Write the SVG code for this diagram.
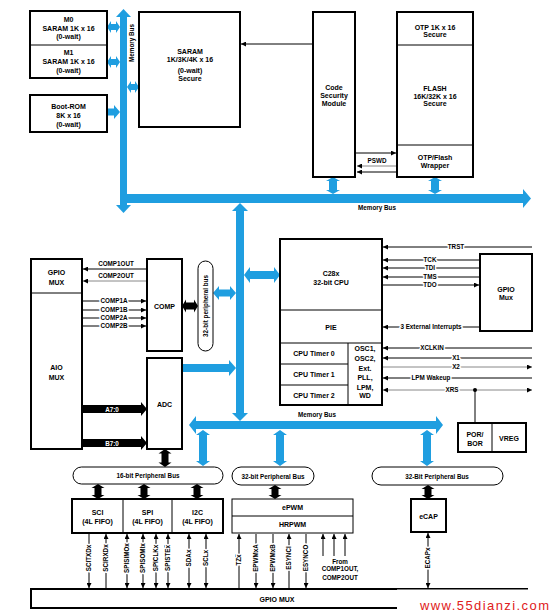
<svg xmlns="http://www.w3.org/2000/svg" width="554" height="615" viewBox="0 0 554 615">
<defs>
<style>
.box{fill:#fff;stroke:#000;stroke-width:2}
.thin{fill:#fff;stroke:#000;stroke-width:1}
.bus{fill:#1f9ee0}
.blk{fill:#000}
.t{font-family:"Liberation Sans",Arial,sans-serif;font-size:7px;font-weight:bold;text-anchor:middle;fill:#000}
.s{font-size:6.3px}
.halo{paint-order:stroke;stroke:#fff;stroke-width:3px;stroke-linejoin:round}
.ln{stroke:#000;stroke-width:1;fill:none}
.gl{stroke:#888}
.ov{text-decoration:overline}
</style>
<marker id="ah" viewBox="0 0 8 8" refX="8" refY="4" markerWidth="5" markerHeight="5" orient="auto-start-reverse" markerUnits="userSpaceOnUse"><path d="M0,0 L8,4 L0,8 z" fill="#000"/></marker>
</defs>
<rect width="554" height="615" fill="#fff"/>

<g id="buses">
<polygon class="bus" points="123.5,9 131,17 127,17 127,205 131,205 123.5,213 116,205 120,205 120,17 116,17"/>
<polygon class="bus" points="127,194 523,194 523,189 531,198.5 523,208 523,203 127,203"/>
<polygon class="bus" points="107,27 111,21 111,24 116,24 116,21 120,27 116,33 116,30 111,30 111,33"/>
<polygon class="bus" points="107,62 111,56 111,59 116,59 116,56 120,62 116,68 116,65 111,65 111,68"/>
<polygon class="bus" points="107,108.5 114,108.5 114,105 120,112 114,119 114,115.5 107,115.5"/>
<polygon class="bus" points="127,87 131,81 131,84 135,84 135,81 139,87 135,93 135,90 131,90 131,93"/>
<polygon class="bus" points="333,177 340,181 337,181 337,190 340,190 333,194 326,190 329,190 329,181 326,181"/>
<polygon class="bus" points="435,177 442,181 439,181 439,190 442,190 435,194 428,190 431,190 431,181 428,181"/>
<polygon class="bus" points="240,203 248,211 244,211 244,413 248,413 240,421 232,413 236,413 236,211 232,211"/>
<polygon class="bus" points="189,425 196,416 196,421 436,421 436,416 443,425 436,434 436,429 196,429 196,434"/>
<polygon class="bus" points="203,430 210,435 207,435 207,461 210,461 203,466 196,461 199,461 199,435 196,435"/>
<polygon class="bus" points="280,430 287,435 284,435 284,461 287,461 280,466 273,461 276,461 276,435 273,435"/>
<polygon class="bus" points="427,430 434,435 431,435 431,461 434,461 427,466 420,461 423,461 423,435 420,435"/>
<polygon class="bus" points="244,275 250,267 250,271 274,271 274,267 280,275 274,283 274,279 250,279 250,283"/>
<polygon class="bus" points="213,293 219,286 219,289.5 230,289.5 230,286 236,293 230,300 230,296.5 219,296.5 219,300"/>
<polygon class="bus" points="182,364 229,364 229,360 236,368 229,376 229,372 182,372"/>
<text class="t s" x="132" y="45.3" transform="rotate(-90 132 43)">Memory Bus</text>
<text class="t s" x="377" y="210">Memory Bus</text>
<text class="t s" x="317" y="417">Memory Bus</text>
</g>

<g id="connectors">
<line class="ln" x1="313" y1="44" x2="241" y2="44" marker-end="url(#ah)"/>
<line class="ln" x1="355" y1="153" x2="396" y2="153" marker-end="url(#ah)"/>
<line class="ln gl" x1="397" y1="166" x2="357" y2="166" marker-end="url(#ah)"/>
<line class="ln" x1="397" y1="172" x2="357" y2="172" marker-end="url(#ah)"/>
<text class="t s" x="377" y="163">PSWD</text>

<line class="ln" x1="532" y1="247" x2="383" y2="247" marker-end="url(#ah)"/>
<text class="t s halo ov" x="456" y="249.3">TRST</text>
<line class="ln" x1="480" y1="260" x2="383" y2="260" marker-end="url(#ah)"/>
<text class="t s halo" x="430" y="262.3">TCK</text>
<line class="ln" x1="480" y1="268" x2="383" y2="268" marker-end="url(#ah)"/>
<text class="t s halo" x="430" y="270.3">TDI</text>
<line class="ln" x1="480" y1="277" x2="383" y2="277" marker-end="url(#ah)"/>
<text class="t s halo" x="430" y="279.3">TMS</text>
<line class="ln" x1="382" y1="285" x2="479" y2="285" marker-end="url(#ah)"/>
<text class="t s halo" x="430" y="287.3">TDO</text>
<line class="ln" x1="480" y1="327" x2="383" y2="327" marker-end="url(#ah)"/>
<text class="t s halo" x="431" y="329.3">3 External Interrupts</text>
<line class="ln" x1="532" y1="348" x2="383" y2="348" marker-end="url(#ah)"/>
<text class="t s halo" x="432" y="350.3">XCLKIN</text>
<line class="ln" x1="532" y1="358" x2="383" y2="358" marker-end="url(#ah)"/>
<text class="t s halo" x="456" y="360.3">X1</text>
<line class="ln gl" x1="382" y1="367" x2="532" y2="367" marker-end="url(#ah)"/>
<text class="t s halo" x="456" y="369.3">X2</text>
<line class="ln" x1="532" y1="378" x2="383" y2="378" marker-end="url(#ah)"/>
<text class="t s halo" x="431" y="380.3">LPM Wakeup</text>
<line class="ln gl" x1="383" y1="390" x2="532" y2="390" marker-start="url(#ah)" marker-end="url(#ah)"/>
<text class="t s halo ov" x="452" y="392.3">XRS</text>
<circle cx="475" cy="390" r="2" fill="#000"/>
<line class="ln" x1="475" y1="390" x2="475" y2="423"/>

<line class="ln" x1="147" y1="269" x2="83" y2="269" marker-end="url(#ah)"/>
<text class="t s" x="116" y="266">COMP1OUT</text>
<line class="ln gl" x1="147" y1="281" x2="83" y2="281" marker-end="url(#ah)"/>
<text class="t s" x="116" y="278">COMP2OUT</text>
<line class="ln" x1="82" y1="301" x2="146" y2="301" marker-end="url(#ah)"/>
<text class="t s halo" x="114" y="303.3">COMP1A</text>
<line class="ln" x1="82" y1="310" x2="146" y2="310" marker-end="url(#ah)"/>
<text class="t s halo" x="114" y="312.3">COMP1B</text>
<line class="ln" x1="82" y1="318" x2="146" y2="318" marker-end="url(#ah)"/>
<text class="t s halo" x="114" y="320.3">COMP2A</text>
<line class="ln" x1="82" y1="326" x2="146" y2="326" marker-end="url(#ah)"/>
<text class="t s halo" x="114" y="328.3">COMP2B</text>

<polygon class="blk" points="182,306 186,299.5 186,302.5 194,302.5 194,299.5 198,306 194,312.5 194,309.5 186,309.5 186,312.5"/>
<polygon class="blk" points="82,405 141,405 141,402 147,409 141,416 141,413 82,413"/>
<text class="t s" x="112" y="411.5" fill="#fff" style="fill:#fff">A7:0</text>
<polygon class="blk" points="82,439 141,439 141,436 147,443 141,450 141,447 82,447"/>
<text class="t s" x="112" y="445.5" style="fill:#fff">B7:0</text>
<polygon class="blk" points="165,449 171.5,453.5 168.5,453.5 168.5,462.5 171.5,462.5 165,467 158.5,462.5 161.5,462.5 161.5,453.5 158.5,453.5"/>
<polygon class="blk" points="98,484 104.5,488 101.5,488 101.5,495 104.5,495 98,499 91.5,495 94.5,495 94.5,488 91.5,488"/>
<polygon class="blk" points="144,484 150.5,488 147.5,488 147.5,495 150.5,495 144,499 137.5,495 140.5,495 140.5,488 137.5,488"/>
<polygon class="blk" points="197,484 203.5,488 200.5,488 200.5,495 203.5,495 197,499 190.5,495 193.5,495 193.5,488 190.5,488"/>
<polygon class="blk" points="275,485 281.5,489 278.5,489 278.5,495 281.5,495 275,499 268.5,495 271.5,495 271.5,489 268.5,489"/>
<polygon class="blk" points="428,485 434.5,489 431.5,489 431.5,495 434.5,495 428,499 421.5,495 424.5,495 424.5,489 421.5,489"/>

<line class="ln" x1="89" y1="534" x2="89" y2="588" marker-end="url(#ah)"/>
<text class="t s halo" x="89" y="560.2" transform="rotate(-90 89 558)">SCITXDx</text>
<line class="ln" x1="106" y1="589" x2="106" y2="534" marker-end="url(#ah)"/>
<text class="t s halo" x="106" y="560.2" transform="rotate(-90 106 558)">SCIRXDx</text>
<line class="ln" x1="127" y1="534" x2="127" y2="588" marker-start="url(#ah)" marker-end="url(#ah)"/>
<text class="t s halo" x="127" y="560.2" transform="rotate(-90 127 558)">SPISIMOx</text>
<line class="ln" x1="143" y1="534" x2="143" y2="588" marker-start="url(#ah)" marker-end="url(#ah)"/>
<text class="t s halo" x="143" y="560.2" transform="rotate(-90 143 558)">SPISOMIx</text>
<line class="ln" x1="156" y1="534" x2="156" y2="588" marker-start="url(#ah)" marker-end="url(#ah)"/>
<text class="t s halo" x="156" y="560.2" transform="rotate(-90 156 558)">SPICLKx</text>
<line class="ln" x1="168" y1="534" x2="168" y2="588" marker-start="url(#ah)" marker-end="url(#ah)"/>
<text class="t s halo ov" x="168" y="560.2" transform="rotate(-90 168 558)">SPISTEx</text>
<line class="ln" x1="189" y1="534" x2="189" y2="588" stroke-width="1.6" marker-start="url(#ah)" marker-end="url(#ah)"/>
<text class="t s halo" x="189" y="560.2" transform="rotate(-90 189 558)">SDAx</text>
<line class="ln" x1="206" y1="534" x2="206" y2="588" marker-start="url(#ah)" marker-end="url(#ah)"/>
<text class="t s halo" x="206" y="560.2" transform="rotate(-90 206 558)">SCLx</text>

<line class="ln" x1="239" y1="589" x2="239" y2="534" marker-end="url(#ah)"/>
<text class="t s halo ov" x="239" y="562.2" transform="rotate(-90 239 560)">TZx</text>
<line class="ln" x1="256" y1="534" x2="256" y2="588" marker-end="url(#ah)"/>
<text class="t s halo" x="256" y="560.2" transform="rotate(-90 256 558)">EPWMxA</text>
<line class="ln" x1="273" y1="534" x2="273" y2="588" marker-end="url(#ah)"/>
<text class="t s halo" x="273" y="560.2" transform="rotate(-90 273 558)">EPWMxB</text>
<line class="ln" x1="289" y1="589" x2="289" y2="534" marker-end="url(#ah)"/>
<text class="t s halo" x="289" y="560.2" transform="rotate(-90 289 558)">ESYNCI</text>
<line class="ln" x1="306" y1="534" x2="306" y2="588" marker-end="url(#ah)"/>
<text class="t s halo" x="306" y="560.2" transform="rotate(-90 306 558)">ESYNCO</text>
<line class="ln" x1="323" y1="556" x2="323" y2="534" marker-end="url(#ah)"/>
<line class="ln" x1="334" y1="556" x2="334" y2="534" marker-end="url(#ah)"/>
<line class="ln" x1="345" y1="556" x2="345" y2="534" marker-end="url(#ah)"/>
<text class="t s" x="340" y="563.5">From</text>
<text class="t s" x="340" y="571">COMP1OUT,</text>
<text class="t s" x="340" y="579.5">COMP2OUT</text>
<line class="ln" x1="428" y1="533" x2="428" y2="588" marker-start="url(#ah)" marker-end="url(#ah)"/>
<text class="t s halo" x="428" y="560.2" transform="rotate(-90 428 558)">ECAPx</text>
</g>

<g id="m0m1">
<rect class="box" x="30" y="11" width="77" height="67"/>
<line class="ln" x1="30" y1="45" x2="107" y2="45" stroke-width="2"/>
<text class="t" x="68.5" y="21.5">M0</text>
<text class="t" x="68.5" y="30.5">SARAM 1K x 16</text>
<text class="t" x="68.5" y="38.5">(0-wait)</text>
<text class="t" x="68.5" y="54.5">M1</text>
<text class="t" x="68.5" y="63.5">SARAM 1K x 16</text>
<text class="t" x="68.5" y="72.5">(0-wait)</text>
</g>
<g id="bootrom">
<rect class="box" x="30" y="95" width="77" height="37"/>
<text class="t" x="68.5" y="108.5">Boot-ROM</text>
<text class="t" x="68.5" y="117.5">8K x 16</text>
<text class="t" x="68.5" y="126.5">(0-wait)</text>
</g>
<g id="saram">
<rect class="box" x="139" y="12" width="101" height="115"/>
<text class="t" x="190" y="53.5">SARAM</text>
<text class="t" x="190" y="61.5">1K/3K/4K x 16</text>
<text class="t" x="190" y="72.5">(0-wait)</text>
<text class="t" x="190" y="80.5">Secure</text>
</g>
<g id="csm">
<rect class="box" x="313" y="12" width="42" height="165"/>
<text class="t" x="334" y="89.5">Code</text>
<text class="t" x="334" y="97.5">Security</text>
<text class="t" x="334" y="105.5">Module</text>
</g>
<g id="flash">
<rect class="box" x="397" y="12" width="76" height="165"/>
<line class="ln" x1="397" y1="45" x2="473" y2="45" stroke-width="2"/>
<line class="ln" x1="397" y1="145" x2="473" y2="145" stroke-width="2"/>
<text class="t" x="435" y="29.5">OTP 1K x 16</text>
<text class="t" x="435" y="37">Secure</text>
<text class="t" x="435" y="90.5">FLASH</text>
<text class="t" x="435" y="98.5">16K/32K x 16</text>
<text class="t" x="435" y="106">Secure</text>
<text class="t" x="435" y="159.5">OTP/Flash</text>
<text class="t" x="435" y="168">Wrapper</text>
</g>
<g id="cpu">
<rect class="box" x="280" y="239" width="102" height="166"/>
<line class="ln" x1="280" y1="310" x2="382" y2="310" stroke-width="2"/>
<line class="ln" x1="280" y1="343" x2="382" y2="343" stroke-width="2"/>
<line class="ln" x1="348" y1="343" x2="348" y2="405" stroke-width="2"/>
<line class="ln" x1="280" y1="364" x2="348" y2="364" stroke-width="2"/>
<line class="ln" x1="280" y1="385" x2="348" y2="385" stroke-width="2"/>
<text class="t" x="331" y="275.5">C28x</text>
<text class="t" x="331" y="284.5">32-bit CPU</text>
<text class="t" x="331" y="329.5">PIE</text>
<text class="t" x="314" y="356">CPU Timer 0</text>
<text class="t" x="314" y="377">CPU Timer 1</text>
<text class="t" x="314" y="397.5">CPU Timer 2</text>
<text class="t" x="365" y="350.5">OSC1,</text>
<text class="t" x="365" y="361">OSC2,</text>
<text class="t" x="365" y="370.5">Ext.</text>
<text class="t" x="365" y="379.5">PLL,</text>
<text class="t" x="365" y="389.5">LPM,</text>
<text class="t" x="365" y="398">WD</text>
</g>
<g id="gpiomux-jtag">
<rect class="box" x="480" y="254" width="52" height="77"/>
<text class="t" x="506" y="291.5">GPIO</text>
<text class="t" x="506" y="299.5">Mux</text>
</g>
<g id="porbor">
<rect class="box" x="458" y="423" width="68" height="29"/>
<line class="ln" x1="492" y1="423" x2="492" y2="452" stroke-width="2"/>
<text class="t" x="475" y="436.5">POR/</text>
<text class="t" x="475" y="445.5">BOR</text>
<text class="t" x="509" y="441">VREG</text>
</g>
<g id="gpio-aio-mux">
<rect class="box" x="31" y="259" width="51" height="190"/>
<line class="ln" x1="31" y1="293" x2="82" y2="293" stroke-width="2"/>
<text class="t" x="56.5" y="274.5">GPIO</text>
<text class="t" x="56.5" y="284.5">MUX</text>
<text class="t" x="56.5" y="369.5">AIO</text>
<text class="t" x="56.5" y="379.5">MUX</text>
</g>
<g id="comp">
<rect class="box" x="147" y="259" width="35" height="92"/>
<text class="t" x="164.5" y="308.5">COMP</text>
</g>
<g id="adc">
<rect class="box" x="147" y="358" width="35" height="91"/>
<text class="t" x="164.5" y="406.5">ADC</text>
</g>
<g id="pbus32v">
<rect class="thin" x="198" y="261" width="15" height="90" rx="7.5"/>
<text class="t s" x="206" y="308.3" transform="rotate(-90 206 306)">32-bit peripheral bus</text>
</g>
<g id="pbus16">
<rect class="thin" x="73" y="467" width="150" height="17" rx="8.5"/>
<text class="t s" x="148" y="478">16-bit Peripheral Bus</text>
</g>
<g id="pbus32a">
<rect class="thin" x="232" y="467" width="82" height="18" rx="9"/>
<text class="t s" x="273" y="478.5">32-bit Peripheral Bus</text>
</g>
<g id="pbus32b">
<rect class="thin" x="372" y="467" width="131" height="18" rx="9"/>
<text class="t s" x="437" y="478.5">32-Bit Peripheral Bus</text>
</g>
<g id="sci-spi-i2c">
<rect class="box" x="72" y="499" width="151" height="34"/>
<line class="ln" x1="123" y1="499" x2="123" y2="533" stroke-width="2"/>
<line class="ln" x1="172" y1="499" x2="172" y2="533" stroke-width="2"/>
<text class="t" x="97.5" y="514.5">SCI</text>
<text class="t" x="97.5" y="523.5">(4L FIFO)</text>
<text class="t" x="147.5" y="514.5">SPI</text>
<text class="t" x="147.5" y="523.5">(4L FIFO)</text>
<text class="t" x="197.5" y="514.5">I2C</text>
<text class="t" x="197.5" y="523.5">(4L FIFO)</text>
</g>
<g id="epwm">
<rect class="thin" x="232" y="499" width="121" height="34"/>
<line class="ln" x1="232" y1="516" x2="353" y2="516"/>
<text class="t" x="292.5" y="510">ePWM</text>
<text class="t" x="292.5" y="527">HRPWM</text>
</g>
<g id="ecap">
<rect class="box" x="411" y="499" width="35" height="33"/>
<text class="t" x="428.5" y="519">eCAP</text>
</g>
<g id="gpiomux-bottom">
<rect class="box" x="31" y="589" width="496" height="19" stroke-width="2.5"/>
<text class="t" x="277" y="602">GPIO MUX</text>
</g>
<rect x="397" y="589.5" width="157" height="25.5" fill="#fff"/>
<text x="420" y="610" font-family="Liberation Sans, Arial, sans-serif" font-size="13" fill="#e02020" textLength="129">www.55dianzi.com</text>
</svg>
